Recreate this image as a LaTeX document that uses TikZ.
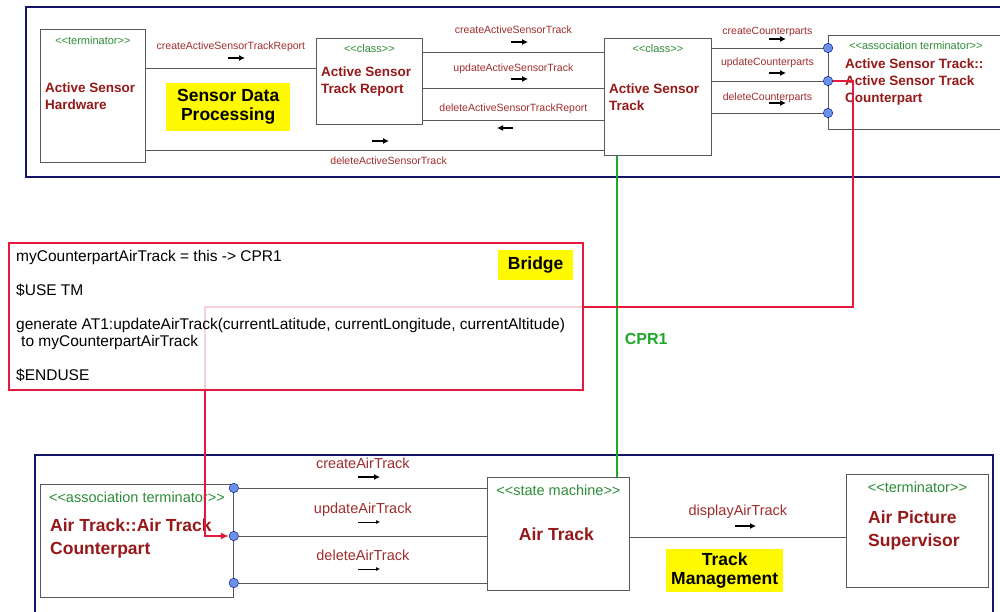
\documentclass[tikz,border=0pt]{standalone}
\usepackage{fontspec}
\setmainfont{Liberation Sans}
\usetikzlibrary{positioning, arrows.meta}

\definecolor{framenavy}{RGB}{20,20,105}
\definecolor{namered}{RGB}{150,25,25}
\definecolor{labelred}{RGB}{160,45,45}
\definecolor{stereogreen}{RGB}{45,140,55}
\definecolor{portblue}{RGB}{105,145,230}
\definecolor{linkred}{RGB}{228,25,60}
\definecolor{linkgreen}{RGB}{30,170,40}
\definecolor{notebg}{RGB}{255,250,0}

\begin{document}
\begin{tikzpicture}[x=1pt, y=-1pt,
	frame/.style={draw=framenavy, line width=2.5pt},
	box/.style={draw=black!65, line width=0.8pt, fill=white, anchor=north west, inner sep=0pt},
	stereo/.style={text=stereogreen, font=\fontsize{11}{12}\selectfont, inner sep=0pt},
	stereoL/.style={text=stereogreen, font=\fontsize{14.5}{16}\selectfont, inner sep=0pt},
	compname/.style={text=namered, font=\bfseries\fontsize{13.5}{17}\selectfont, align=left, anchor=west, inner sep=0pt},
	compnameL/.style={text=namered, font=\bfseries\fontsize{17.5}{23}\selectfont, align=left, anchor=west, inner sep=0pt},
	msg/.style={text=labelred, font=\fontsize{10.5}{12}\selectfont, inner sep=0pt},
	msgL/.style={text=labelred, font=\fontsize{14.5}{16}\selectfont, inner sep=0pt},
	wire/.style={draw=black!65, line width=0.8pt},
	sig/.style={-{Latex[length=6pt,width=6pt]}, line width=1.1pt},
	sigthin/.style={-{Latex[length=4pt,width=4pt]}, line width=0.7pt},
	port/.style={circle, draw=blue!55!black, fill=portblue, inner sep=0pt, minimum size=9.5pt},
	note/.style={fill=notebg, font=\bfseries\fontsize{17.5}{19}\selectfont, align=center, inner sep=0pt, anchor=north west},
	link/.style={draw=linkred, line width=2.2pt, -{Latex[length=8pt,width=7pt]}},
	cpr/.style={draw=linkgreen, line width=1.8pt},
	bridgebox/.style={draw=linkred, line width=2pt, fill=white, fill opacity=0.8, anchor=north west, inner sep=0pt},
	codetext/.style={font=\fontsize{15.5}{17}\selectfont, align=left, anchor=north west, inner sep=0pt}
	]

\useasboundingbox (0,0) rectangle (1000,612);
\fill[white] (0,0) rectangle (1000,612);

\draw[frame] (26,7) rectangle (1012,177);
\draw[frame] (35,455) rectangle (993,622);

\node[box, minimum width=105, minimum height=133] (ash) at (40,29) {};
\node[box, minimum width=106, minimum height=86] (astr) at (316,38) {};
\node[box, minimum width=107, minimum height=117] (ast) at (604,38) {};
\node[box, minimum width=175, minimum height=94] (acp) at (828,35) {};

\node[stereo] at ([yshift=-12pt]ash.north) {<{}<terminator>{}>};
\node[stereo] at ([yshift=-11pt]astr.north) {<{}<class>{}>};
\node[stereo] at ([yshift=-11pt]ast.north) {<{}<class>{}>};
\node[stereo] at ([yshift=-11pt]acp.north) {<{}<association terminator>{}>};

\node[compname] at ([xshift=5pt]ash.west) {Active Sensor\\Hardware};
\node[compname] at ([xshift=5pt]astr.west) {Active Sensor\\Track Report};
\node[compname] at ([xshift=5pt]ast.west) {Active Sensor\\Track};
\node[compname] at ([xshift=17pt]acp.west) {Active Sensor Track::\\Active Sensor Track\\Counterpart};

\node[port] (tp1) at (acp.west |- 0,48) {};
\node[port] (tp2) at (acp.west |- 0,81) {};
\node[port] (tp3) at (acp.west |- 0,113) {};

\draw[wire] (ash.east |- 0,68) -- node[msg, yshift=21pt] {createActiveSensorTrackReport} (astr.west |- 0,68);
\draw[wire] (ash.east |- 0,150) -- node[msg, pos=0.53, yshift=-11pt] {deleteActiveSensorTrack} (ast.west |- 0,150);
\draw[wire] (astr.east |- 0,52) -- node[msg, yshift=22pt] {createActiveSensorTrack} (ast.west |- 0,52);
\draw[wire] (astr.east |- 0,88) -- node[msg, yshift=19pt] {updateActiveSensorTrack} (ast.west |- 0,88);
\draw[wire] (astr.east |- 0,120) -- node[msg, yshift=11pt] {deleteActiveSensorTrackReport} (ast.west |- 0,120);
\draw[wire] (ast.east |- tp1) -- node[msg, yshift=16pt] {createCounterparts} (tp1);
\draw[wire] (ast.east |- tp2) -- node[msg, yshift=18pt] {updateCounterparts} (tp2);
\draw[wire] (ast.east |- tp3) -- node[msg, yshift=15pt] {deleteCounterparts} (tp3);

\foreach \x/\y in {228/58, 372/141, 511/42, 511/79, 769/39, 769/73, 769/103}
	\draw[sig] (\x,\y) -- ++(17,0);
\draw[sig] (513,128) -- ++(-16,0);

\node[note, minimum width=124, minimum height=48] (sdp) at (166,83) {Sensor Data\\Processing};

\node[box, minimum width=193, minimum height=113] (atc) at (40,484) {};
\node[box, minimum width=142, minimum height=113] (atr) at (487,477) {};
\node[box, minimum width=142, minimum height=113] (aps) at (846,474) {};

\node[stereoL] at ([yshift=-13pt]atc.north) {<{}<association terminator>{}>};
\node[stereoL] at ([yshift=-13pt]atr.north) {<{}<state machine>{}>};
\node[stereoL] at ([yshift=-13pt]aps.north) {<{}<terminator>{}>};

\node[compnameL] at ([xshift=10pt, yshift=2pt]atc.west) {Air Track::Air Track\\Counterpart};
\node[compnameL, anchor=center] at ([xshift=-2pt]atr.center) {Air Track};
\node[compnameL] at ([xshift=22pt]aps.west) {Air Picture\\Supervisor};

\node[port] (bp1) at (atc.east |- 0,488) {};
\node[port] (bp2) at (atc.east |- 0,536) {};
\node[port] (bp3) at (atc.east |- 0,583) {};

\draw[wire] (bp1) -- node[msgL, yshift=25pt] {createAirTrack} (atr.west |- bp1);
\draw[wire] (bp2) -- node[msgL, yshift=26pt] {updateAirTrack} (atr.west |- bp2);
\draw[wire] (bp3) -- node[msgL, yshift=28pt] {deleteAirTrack} (atr.west |- bp3);
\draw[wire] (atr.east |- 0,537) -- node[msgL, yshift=25pt] {displayAirTrack} (aps.west |- 0,537);

\draw[sig] (358,477) -- ++(22,0);
\draw[sigthin] (358,522) -- ++(22,0);
\draw[sigthin] (358,569) -- ++(22,0);
\draw[sig] (735,526) -- ++(21,0);

\node[note, minimum width=117, minimum height=43] (tm) at (666,549) {Track\\Management};

\draw[cpr] (ast.south -| 617,0) -- node[pos=0.57, right=7pt, text=linkgreen, font=\bfseries\fontsize{16}{18}\selectfont, inner sep=0pt] {CPR1} (atr.north -| 617,0);

\coordinate (r1) at (853,307);
\coordinate (r2) at (205,307);
\draw[link] (tp2.east) -| (r1) -- (r2) |- (bp2.west);

\node[bridgebox, minimum width=574, minimum height=147] (bridge) at (8,242) {};
\node[codetext] (bcode) at (16,250) {myCounterpartAirTrack = this -> CPR1\\[17pt]
	\$USE TM\\[17pt]
	generate AT1:updateAirTrack(currentLatitude, currentLongitude, currentAltitude)\\
	\hspace*{5pt}to myCounterpartAirTrack\\[17pt]
	\$ENDUSE};
\node[note, minimum width=75, minimum height=30] (btag) at (498,250) {Bridge};

\end{tikzpicture}
\end{document}
